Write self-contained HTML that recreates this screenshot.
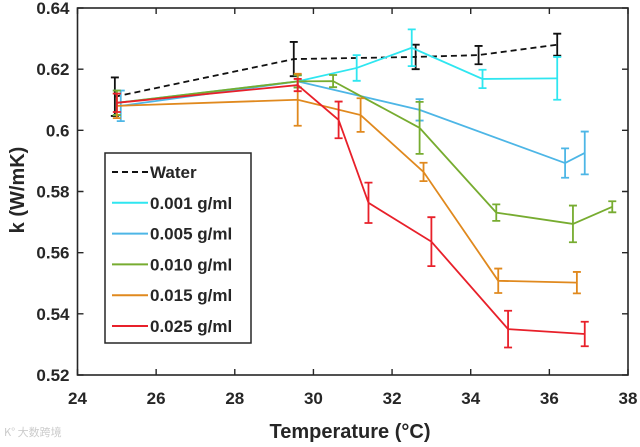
<!DOCTYPE html>
<html><head><meta charset="utf-8"><style>
body{margin:0;background:#fff;width:640px;height:442px;overflow:hidden}
svg text{font-family:"Liberation Sans",Arial,sans-serif;font-weight:bold;fill:#262626}
</style></head><body>
<svg id="c" width="640" height="442"></svg>
<script>
const xTicks=[24,26,28,30,32,34,36,38];
const yTicks=[0.52,0.54,0.56,0.58,0.60,0.62,0.64];
const yTickLabels=["0.52","0.54","0.56","0.58","0.6","0.62","0.64"];
const seriesNames=["Water","0.001 g/ml","0.005 g/ml","0.010 g/ml","0.015 g/ml","0.025 g/ml"];
const seriesColors=["#111","#2fe6f0","#4db6e6","#77ac30","#e0891e","#e8202a"];
const waterT=[24.95,29.5,32.6,34.2,36.2];
const waterK=[0.611,0.6233,0.624,0.6246,0.628];
const waterE=[0.0063,0.0056,0.004,0.003,0.0036];
const c001T=[25.0,29.6,31.1,32.5,34.3,36.2];
const c001K=[0.609,0.616,0.6204,0.627,0.6168,0.617];
const c001E=[0.004,0.002,0.0042,0.006,0.003,0.007];
const c005T=[25.1,29.6,32.7,36.4,36.9];
const c005K=[0.608,0.616,0.6067,0.5893,0.5926];
const c005E=[0.005,0.002,0.0035,0.0048,0.007];
const c010T=[25.0,29.6,30.5,32.7,34.65,36.6,37.6];
const c010K=[0.609,0.616,0.6161,0.6008,0.5731,0.5694,0.575];
const c010E=[0.004,0.002,0.002,0.0085,0.0027,0.006,0.0018];
const c015T=[25.0,29.6,31.2,32.8,34.7,36.7];
const c015K=[0.608,0.610,0.605,0.5864,0.5508,0.5502];
const c015E=[0.004,0.0085,0.0055,0.003,0.004,0.0035];
const c025T=[25.0,29.6,30.64,31.4,33.0,34.95,36.9];
const c025K=[0.609,0.6148,0.6034,0.5763,0.5636,0.535,0.5334];
const c025E=[0.003,0.002,0.006,0.0066,0.008,0.006,0.004];
const allT=[waterT,c001T,c005T,c010T,c015T,c025T];
const allK=[waterK,c001K,c005K,c010K,c015K,c025K];
const allE=[waterE,c001E,c005E,c010E,c015E,c025E];

const L=77.5,R=628,T=8,B=375;
const xs=v=>L+(v-24)/(38-24)*(R-L);
const ys=v=>B-(v-0.52)/(0.64-0.52)*(B-T);
const svg=document.getElementById('c');
const NS='http://www.w3.org/2000/svg';
function mk(tag,attrs,parent){const e=document.createElementNS(NS,tag);for(const k in attrs)e.setAttribute(k,attrs[k]);(parent||svg).appendChild(e);return e;}

allT.forEach((ts,si)=>{
  const g=mk('g',{});
  
  
  const pts=ts.map((t,i)=>xs(t)+','+ys(allK[si][i])).join(' ');
  const pl=mk('polyline',{points:pts,fill:'none',stroke:seriesColors[si],'stroke-width':1.8,'stroke-dasharray':si===0?'6,4':'none'},g);
  
  
  ts.forEach((t,i)=>{
    const x=xs(t),y1=ys(allK[si][i]+allE[si][i]),y2=ys(allK[si][i]-allE[si][i]);
    const eb=mk('path',{d:`M${x},${y1}V${y2}M${x-4},${y1}H${x+4}M${x-4},${y2}H${x+4}`,stroke:seriesColors[si],'stroke-width':1.8,fill:'none'},g);
    
    
  });
});

const box=mk('rect',{x:L,y:T,width:R-L,height:B-T,fill:'none',stroke:'#262626','stroke-width':1.6});


xTicks.forEach(v=>{
  const x=xs(v);
  const tk=mk('path',{d:`M${x},${B}v-6M${x},${T}v6`,stroke:'#262626','stroke-width':1.4});
  
  
  const tx=mk('text',{x:x,y:B+29,'text-anchor':'middle','font-size':17});
  tx.textContent=v;
  
  
});
yTicks.forEach((v,i)=>{
  const y=ys(v);
  const tk=mk('path',{d:`M${L},${y}h6M${R},${y}h-6`,stroke:'#262626','stroke-width':1.4});
  
  
  const tx=mk('text',{x:L-8,y:y+6,'text-anchor':'end','font-size':17});
  tx.textContent=yTickLabels[i];
  
  
});
const xl=mk('text',{x:350,y:438,'text-anchor':'middle','font-size':20});
xl.textContent='Temperature (°C)';


const yl=mk('text',{x:0,y:0,'text-anchor':'middle','font-size':20,transform:'translate(24,190) rotate(-90)'});
yl.textContent='k (W/mK)';



const lg=mk('g',{});


mk('rect',{x:105,y:153,width:146,height:190,fill:'#fff',stroke:'#262626','stroke-width':1.5},lg);
seriesNames.forEach((n,i)=>{
  const y=172+i*30.8;
  const e=mk('g',{},lg);
  
  
  mk('line',{x1:112,x2:148,y1:y,y2:y,stroke:seriesColors[i],'stroke-width':2,'stroke-dasharray':i===0?'6,4':'none'},e);
  const t=mk('text',{x:150,y:y+6,'font-size':17},e);
  t.textContent=n;
});
const wm=mk('text',{x:4,y:436,'font-size':11,style:'fill:#ccc;font-weight:normal;font-family:"Noto Sans CJK SC",sans-serif'});
wm.textContent='K° 大数跨境';


</script>
</body></html>
